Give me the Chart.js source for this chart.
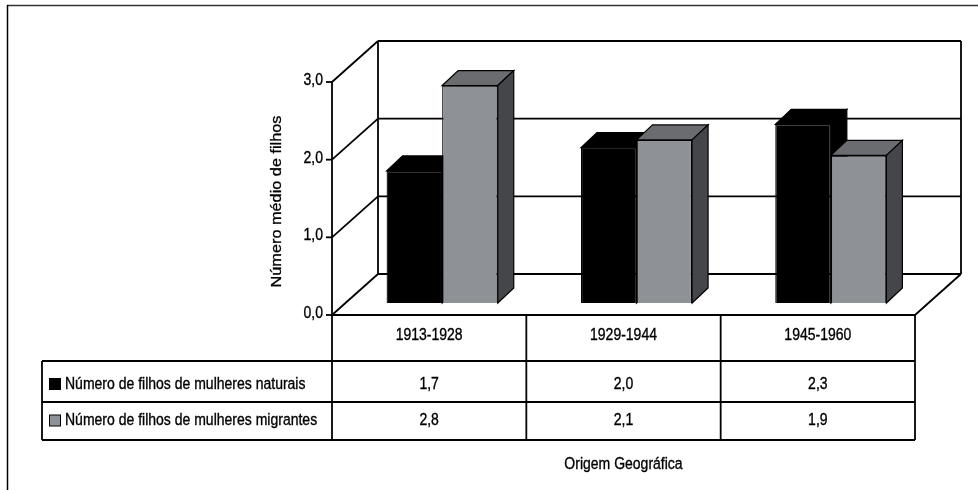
<!DOCTYPE html>
<html>
<head>
<meta charset="utf-8">
<title>Número médio de filhos por origem geográfica</title>
<script src="https://cdn.jsdelivr.net/npm/chart.js@4.4.1/dist/chart.umd.min.js"></script>
<style>
  html, body { margin: 0; padding: 0; background: #fff; }
  #chart { display: block; }
</style>
</head>
<body>
<canvas id="chart" width="978" height="490"></canvas>
<script>
// data
const categories = ["1913-1928", "1929-1944", "1945-1960"];
const naturais = [1.7, 2.0, 2.3];
const migrantes = [2.8, 2.1, 1.9];
const seriesNames = [
  "Número de filhos de mulheres naturais",
  "Número de filhos de mulheres migrantes",
];
const yTicks = [0, 1, 2, 3];
const yTitle = "Número médio de filhos";
const xTitle = "Origem Geográfica";

// 3D look: offsets from the bar plane to the front and back planes
const FRONT = { dx: 13, dy: 12 };
const BACK = { dx: 33, dy: 29 };
const DEPTH = { dx: 16, dy: 15 };
const FONT = "16.3px 'Liberation Sans', Arial, sans-serif";
const SQUEEZE = 0.86;

const faceColors = [
  { front: "#000000", top: "#000000", side: "#000000" },
  { front: "#8e9195", top: "#6b6c70", side: "#45464a" },
];

const fmt = (v) => v.toFixed(1).replace(".", ",");

function text(ctx, str, x, y, align, rotate) {
  ctx.save();
  ctx.translate(x, y);
  if (rotate) {
    ctx.rotate(-Math.PI / 2);
    ctx.scale(1, SQUEEZE);
  } else {
    ctx.scale(SQUEEZE, 1);
  }
  ctx.font = FONT;
  ctx.fillStyle = "#000";
  ctx.strokeStyle = "#000";
  ctx.lineWidth = 0.35;
  ctx.textAlign = align;
  ctx.textBaseline = "middle";
  ctx.fillText(str, 0, 0);
  ctx.strokeText(str, 0, 0);
  ctx.restore();
}

function poly(ctx, pts, fill) {
  ctx.beginPath();
  ctx.moveTo(pts[0][0], pts[0][1]);
  for (let i = 1; i < pts.length; i++) ctx.lineTo(pts[i][0], pts[i][1]);
  ctx.closePath();
  if (fill) {
    ctx.fillStyle = fill;
    ctx.fill();
  }
  ctx.stroke();
}

function line(ctx, x1, y1, x2, y2) {
  ctx.beginPath();
  ctx.moveTo(x1, y1);
  ctx.lineTo(x2, y2);
  ctx.stroke();
}

function drawExtrusion(chart, index) {
  const ctx = chart.ctx;
  const meta = chart.getDatasetMeta(index);
  const c = faceColors[index];
  ctx.save();
  ctx.strokeStyle = "#000";
  ctx.lineWidth = 1.2;
  meta.data.forEach((bar) => {
    const p = bar.getProps(["x", "y", "base", "width"], true);
    const l = p.x - p.width / 2;
    const r = p.x + p.width / 2;
    poly(ctx, [[l, p.y], [l + DEPTH.dx, p.y - DEPTH.dy], [r + DEPTH.dx, p.y - DEPTH.dy], [r, p.y]], c.top);
    poly(ctx, [[r, p.y], [r + DEPTH.dx, p.y - DEPTH.dy], [r + DEPTH.dx, p.base - DEPTH.dy], [r, p.base]], c.side);
  });
  ctx.restore();
}

const box3d = {
  id: "box3d",
  beforeDraw(chart) {
    const ctx = chart.ctx;
    ctx.save();
    ctx.fillStyle = "#fff";
    ctx.fillRect(0, 0, chart.width, chart.height);
    // outer frame (top and left only)
    ctx.lineWidth = 1.5;
    ctx.strokeStyle = "#333";
    line(ctx, 7, 5.5, chart.width, 5.5);
    ctx.strokeStyle = "#000";
    line(ctx, 7.5, 5, 7.5, chart.height);
    ctx.restore();
  },
  beforeDatasetsDraw(chart) {
    const ctx = chart.ctx;
    const area = chart.chartArea;
    const y = chart.scales.y;
    const fl = area.left - FRONT.dx;
    const fr = area.right - FRONT.dx;
    const bl = area.left + BACK.dx;
    const br = area.right + BACK.dx;
    const f = (v) => y.getPixelForValue(v) + FRONT.dy;
    const b = (v) => y.getPixelForValue(v) - BACK.dy;
    const top = yTicks[yTicks.length - 1];

    ctx.save();
    ctx.strokeStyle = "#000";
    ctx.lineWidth = 1.8;
    // walls + floor
    line(ctx, bl, b(top), bl, b(0));
    line(ctx, br, b(top), br, b(0));
    line(ctx, fl, f(top), fl, f(0));
    yTicks.forEach((v) => {
      line(ctx, fl, f(v), bl, b(v));
      line(ctx, bl, b(v), br, b(v));
      line(ctx, fl - 6, f(v), fl, f(v));
      text(ctx, fmt(v), fl - 9, f(v) - 1.5, "right");
    });
    line(ctx, fl, f(0), fr, f(0));
    line(ctx, fr, f(0), br, b(0));
    ctx.restore();

    text(ctx, yTitle, 277, (f(0) + f(top)) / 2 + 3, "center", true);

    drawExtrusion(chart, 0);
  },
  afterDatasetsDraw(chart) {
    drawExtrusion(chart, 1);

    // data table under the floor
    const ctx = chart.ctx;
    const x = chart.scales.x;
    const y = chart.scales.y;
    const catW = x.getPixelForValue(1) - x.getPixelForValue(0);
    const edge = (i) => x.getPixelForValue(0) - catW / 2 + i * catW - FRONT.dx;
    const yTop = y.getPixelForValue(0) + FRONT.dy;
    const rows = [361, 402, 440];
    const legendLeft = 42;
    const n = categories.length;

    ctx.save();
    ctx.strokeStyle = "#000";
    ctx.lineWidth = 1.8;
    for (let i = 0; i <= n; i++) line(ctx, edge(i), yTop, edge(i), rows[2]);
    rows.forEach((ry) => line(ctx, legendLeft, ry, edge(n), ry));
    line(ctx, legendLeft, rows[0], legendLeft, rows[2]);

    const rowMid = [384.5, 421];
    [naturais, migrantes].forEach((vals, s) => {
      ctx.lineWidth = 1;
      ctx.fillStyle = faceColors[s].front;
      ctx.fillRect(49.5, rowMid[s] - 6, 11, 11);
      ctx.strokeRect(49.5, rowMid[s] - 6, 11, 11);
      text(ctx, seriesNames[s], 65, rowMid[s], "left");
      vals.forEach((v, i) => text(ctx, fmt(v), (edge(i) + edge(i + 1)) / 2, rowMid[s], "center"));
    });
    categories.forEach((c, i) => text(ctx, c, (edge(i) + edge(i + 1)) / 2, 336, "center"));
    text(ctx, xTitle, (edge(0) + edge(n)) / 2, 465, "center");
    ctx.restore();
  },
};

new Chart(document.getElementById("chart"), {
  type: "bar",
  data: {
    labels: categories,
    datasets: [
      {
        label: seriesNames[0],
        data: naturais,
        backgroundColor: faceColors[0].front,
        borderColor: "#000",
        borderWidth: 1.2,
      },
      {
        label: seriesNames[1],
        data: migrantes,
        backgroundColor: faceColors[1].front,
        borderColor: "#000",
        borderWidth: 1.2,
      },
    ],
  },
  options: {
    responsive: false,
    animation: false,
    devicePixelRatio: 1,
    layout: { padding: { left: 345, right: 50, top: 70, bottom: 187 } },
    datasets: { bar: { categoryPercentage: 0.572, barPercentage: 1 } },
    scales: {
      x: { display: false },
      y: { display: false, min: 0, max: 3 },
    },
    plugins: {
      legend: { display: false },
      tooltip: { enabled: false },
    },
  },
  plugins: [box3d],
});
</script>
</body>
</html>
